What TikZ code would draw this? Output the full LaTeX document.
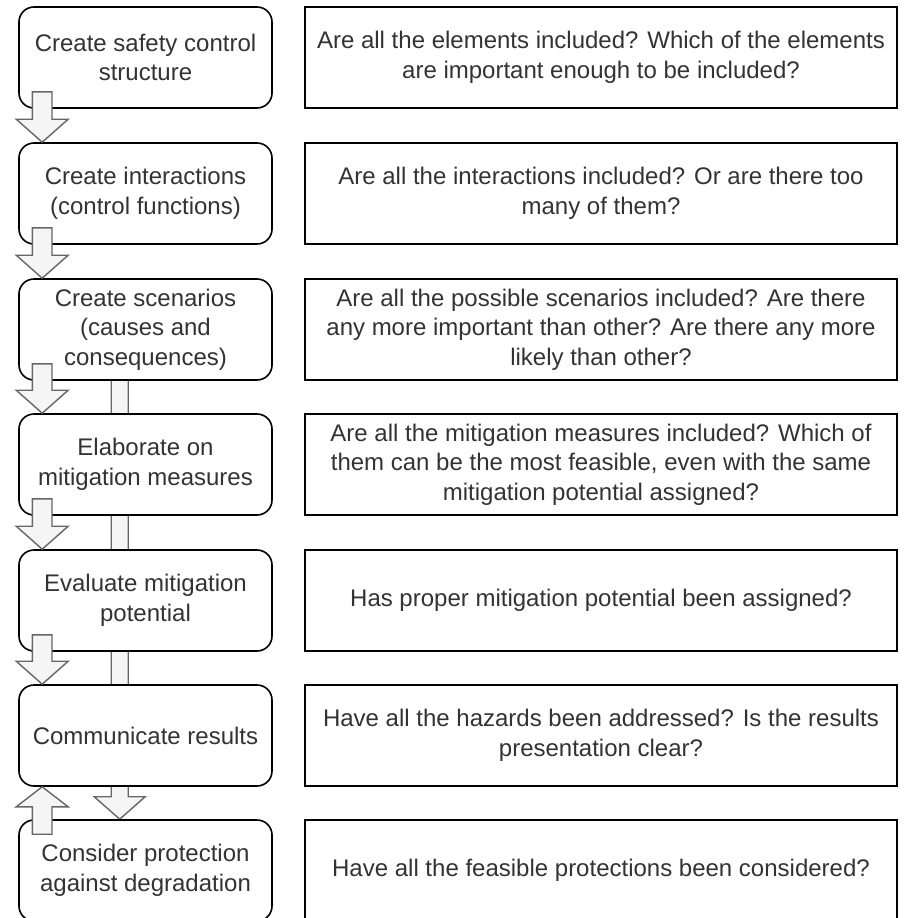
\documentclass[tikz,border=0pt]{standalone}
\usepackage{fontspec}
\setmainfont{Liberation Sans}
\usetikzlibrary{calc}
\pgfdeclarelayer{bg}
\pgfsetlayers{bg,main}
\definecolor{txt}{HTML}{333333}
\definecolor{arrfill}{HTML}{F5F5F5}
\definecolor{arrline}{HTML}{666666}
\newcommand\blockarrow[5]{%
  \draw[barrow] let \p1=(#1), \p2=(#2), \p3=($(#2)!#5!(#1)$) in
    (\x1-#3,\y1) -- (\x1-#3,\y3) -- (\x1-#4,\y3) -- (\x2,\y2) --
    (\x1+#4,\y3) -- (\x1+#3,\y3) -- (\x1+#3,\y1) -- cycle;}
\begin{document}
\begin{tikzpicture}[x=1pt,y=-1pt,
  font=\fontsize{24}{29.5}\selectfont,
  lbox/.style={draw=black, line width=1.6pt, rounded corners=15pt, fill=white,
    minimum width=253pt, minimum height=101pt, align=center, text=txt, inner sep=0pt},
  rbox/.style={draw=black, line width=1.6pt, fill=white,
    minimum width=592pt, minimum height=101pt, align=center, text=txt, inner sep=0pt},
  barrow/.style={draw=arrline, fill=arrfill, line width=1.4pt, line join=miter}]
\useasboundingbox (0,0) rectangle (904,918);
\clip (0,0) rectangle (904,918);

% left column
\node[lbox] (l1) at (145.5,57.5) {Create safety control\\structure};
\node[lbox] (l2) at (145.5,193.5) {Create interactions\\(control functions)};
\node[lbox] (l3) at (145.5,329.5) {Create scenarios\\(causes and\\consequences)};
\node[lbox] (l4) at (145.5,464.5) {Elaborate on\\mitigation measures};
\node[lbox] (l5) at (145.5,600.5) {Evaluate mitigation\\potential};
\node[lbox] (l6) at (145.5,735.5) {Communicate results};
\node[lbox] (l7) at (145.5,870.5) {Consider protection\\against degradation};

% right column
\node[rbox] (r1) at (601,57.5) {Are all the elements included? Which of the elements\\are important enough to be included?};
\node[rbox] (r2) at (601,193.5) {Are all the interactions included? Or are there too\\many of them?};
\node[rbox] (r3) at (601,329.5) {Are all the possible scenarios included? Are there\\any more important than other? Are there any more\\likely than other?};
\node[rbox] (r4) at (601,464.5) {Are all the mitigation measures included? Which of\\them can be the most feasible, even with the same\\mitigation potential assigned?};
\node[rbox] (r5) at (601,600.5) {Has proper mitigation potential been assigned?};
\node[rbox] (r6) at (601,735.5) {Have all the hazards been addressed? Is the results\\presentation clear?};
\node[rbox] (r7) at (601,870.5) {Have all the feasible protections been considered?};

% long arrow behind the boxes
\begin{pgfonlayer}{bg}
\blockarrow{$(l3.south west)+(101.5,-20)$}{$(l7.north west)+(101.5,0)$}{8.5pt}{25.5pt}{22.5pt}
\end{pgfonlayer}

% step arrows
\blockarrow{$(l1.south west)+(24,-17)$}{$(l2.north west)+(24,0)$}{9.8pt}{26pt}{23pt}
\blockarrow{$(l2.south west)+(24,-17)$}{$(l3.north west)+(24,0)$}{9.8pt}{26pt}{23pt}
\blockarrow{$(l3.south west)+(24,-17)$}{$(l4.north west)+(24,0)$}{9.8pt}{26pt}{23pt}
\blockarrow{$(l4.south west)+(24,-17)$}{$(l5.north west)+(24,0)$}{9.8pt}{26pt}{23pt}
\blockarrow{$(l5.south west)+(24,-17)$}{$(l6.north west)+(24,0)$}{9.8pt}{26pt}{23pt}
% upward arrow
\blockarrow{$(l7.north west)+(24,15)$}{$(l6.south west)+(24,0)$}{9.8pt}{26pt}{20pt}
\end{tikzpicture}
\end{document}
